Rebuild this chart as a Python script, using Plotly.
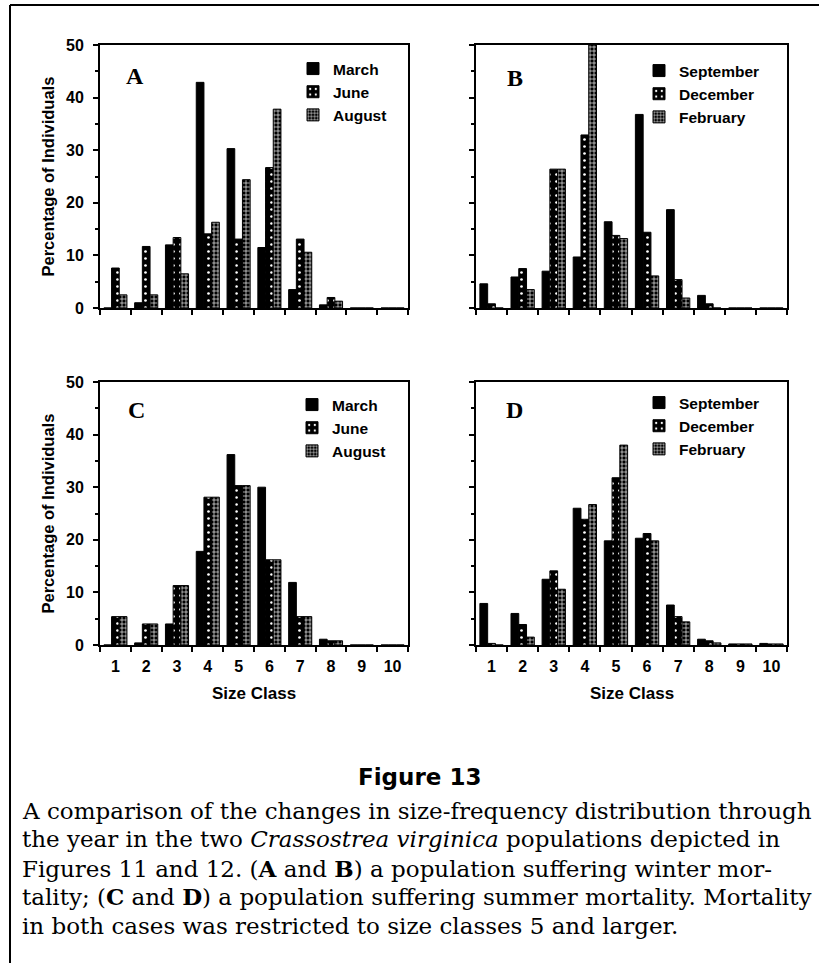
import plotly.graph_objects as go

W, H = 819, 966

size_class = [str(i) for i in range(1, 11)]

# Panel A: population with winter mortality, sampled through spring/summer
a_march = [0.0, 1.0, 12.0, 42.9, 30.3, 11.5, 3.5, 0.6, 0.0, 0.0]
a_june = [7.6, 11.7, 13.4, 14.1, 13.1, 26.7, 13.1, 2.0, 0.0, 0.0]
a_august = [2.5, 2.5, 6.5, 16.3, 24.4, 37.8, 10.6, 1.3, 0.0, 0.0]

# Panel B: same population, autumn/winter samples
b_september = [4.6, 5.9, 7.0, 9.7, 16.4, 36.8, 18.7, 2.4, 0.0, 0.0]
b_december = [0.8, 7.5, 26.4, 32.9, 13.8, 14.4, 5.4, 0.8, 0.0, 0.0]
b_february = [0.0, 3.5, 26.4, 50.0, 13.2, 6.1, 1.9, 0.0, 0.0, 0.0]

# Panel C: population with summer mortality, spring/summer samples
c_march = [0.0, 0.4, 4.0, 17.8, 36.2, 30.0, 11.9, 1.1, 0.0, 0.0]
c_june = [5.4, 4.0, 11.3, 28.1, 30.3, 16.2, 5.4, 0.8, 0.0, 0.0]
c_august = [5.4, 4.0, 11.3, 28.1, 30.3, 16.2, 5.4, 0.8, 0.0, 0.0]

# Panel D: same population, autumn/winter samples
d_september = [7.9, 6.0, 12.5, 26.0, 19.8, 20.3, 7.6, 1.1, 0.2, 0.3]
d_december = [0.3, 3.9, 14.1, 23.9, 31.8, 21.2, 5.4, 0.8, 0.2, 0.2]
d_february = [0.0, 1.5, 10.6, 26.7, 38.0, 19.8, 4.4, 0.4, 0.2, 0.2]

y_title = "Percentage of Individuals"
x_title = "Size Class"

caption_lines = [
    "A comparison of the changes in size-frequency distribution through",
    "the year in the two <i>Crassostrea virginica</i> populations depicted in",
    "Figures 11 and 12. (<b>A</b> and <b>B</b>) a population suffering winter mor-",
    "tality; (<b>C</b> and <b>D</b>) a population suffering summer mortality. Mortality",
    "in both cases was restricted to size classes 5 and larger.",
]


def fx(px):
    return px / W


def fy(py):
    return 1 - py / H


SANS = "Liberation Sans"
SERIF = "Liberation Serif"

# fill styles: solid, dotted, cross-hatched
styles = [
    dict(color="black"),
    dict(color="black", pattern=dict(shape=".", fgcolor="white", bgcolor="black",
                                     size=7, solidity=0.12)),
    dict(color="black", pattern=dict(shape="+", fgcolor="white", bgcolor="black",
                                     size=4, solidity=0.3)),
]

panels = [
    # letter, series, names, x domain px, y domain px, legend top px, legend left px,
    # letter centre px
    ("A", [a_march, a_june, a_august], ["March", "June", "August"],
     (100, 408), (45, 308), 52, 293, (135, 76)),
    ("B", [b_september, b_december, b_february], ["September", "December", "February"],
     (476, 787), (45, 308), 54, 639, (515, 78)),
    ("C", [c_march, c_june, c_august], ["March", "June", "August"],
     (100, 408), (382, 645), 388, 292, (136, 410)),
    ("D", [d_september, d_december, d_february], ["September", "December", "February"],
     (476, 787), (382, 645), 386, 639, (514, 410)),
]

fig = go.Figure()
layout = dict(
    template="none",
    width=W, height=H, autosize=False,
    margin=dict(l=0, r=0, t=0, b=0, pad=0),
    paper_bgcolor="white", plot_bgcolor="white",
    barmode="group", bargap=0.25, bargroupgap=0.0,
    annotations=[], shapes=[],
)

for i, (letter, series, names, xd, yd, leg_top, leg_left, lpos) in enumerate(panels):
    n = i + 1
    sfx = "" if n == 1 else str(n)
    leg = "legend" + sfx
    for vals, name, st in zip(series, names, styles):
        fig.add_trace(go.Bar(
            x=size_class, y=vals, name=name,
            xaxis="x" + sfx, yaxis="y" + sfx, legend=leg,
            marker=dict(line=dict(color="black", width=1), **st),
            offsetgroup=name,
        ))
    bottom_row = letter in ("C", "D")
    left_col = letter in ("A", "C")
    layout["xaxis" + sfx] = dict(
        domain=[fx(xd[0]), fx(xd[1])], anchor="y" + sfx, automargin=False,
        type="category", categoryorder="array", categoryarray=size_class,
        range=[-0.5, 9.5], tickson="boundaries",
        ticks="outside", ticklen=5, tickwidth=2, tickcolor="black",
        showline=True, linewidth=2, linecolor="black", mirror=True,
        showgrid=False, zeroline=False,
        showticklabels=bottom_row, ticklabelstandoff=6,
        tickfont=dict(family=SANS, size=16, color="black", weight="bold"),
        fixedrange=True,
    )
    layout["yaxis" + sfx] = dict(
        domain=[fy(yd[1]), fy(yd[0])], anchor="x" + sfx, automargin=False,
        range=[0, 50], dtick=10, tick0=0,
        ticks="outside", ticklen=5, tickwidth=2, tickcolor="black",
        minor=dict(dtick=5, ticks="outside", ticklen=3, tickwidth=2, tickcolor="black"),
        showline=True, linewidth=2, linecolor="black", mirror=True,
        showgrid=False, zeroline=False,
        showticklabels=left_col, ticklabelstandoff=6,
        tickfont=dict(family=SANS, size=16, color="black", weight="bold"),
        fixedrange=True,
    )
    layout[leg] = dict(
        x=fx(leg_left), y=fy(leg_top), xanchor="left", yanchor="top",
        bgcolor="rgba(0,0,0,0)", borderwidth=0, tracegroupgap=0,
        font=dict(family=SANS, size=15.5, color="black", weight="bold"),
        traceorder="normal",
    )
    # panel letter
    layout["annotations"].append(dict(
        text=letter, x=fx(lpos[0]), y=fy(lpos[1]), xref="paper", yref="paper",
        xanchor="center", yanchor="middle", showarrow=False,
        font=dict(family=SERIF, size=24, color="black", weight="bold"),
    ))
    if left_col:
        layout["annotations"].append(dict(
            text=y_title, x=fx(47), y=fy((yd[0] + yd[1]) / 2), xref="paper", yref="paper",
            xanchor="center", yanchor="middle", textangle=-90, showarrow=False,
            font=dict(family=SANS, size=16.5, color="black", weight="bold"),
        ))
    if bottom_row:
        layout["annotations"].append(dict(
            text=x_title, x=fx((xd[0] + xd[1]) / 2), y=fy(693), xref="paper", yref="paper",
            xanchor="center", yanchor="middle", showarrow=False,
            font=dict(family=SANS, size=17, color="black", weight="bold"),
        ))

# figure caption
layout["annotations"].append(dict(
    text="Figure 13", x=fx(420), y=fy(777), xref="paper", yref="paper",
    xanchor="center", yanchor="middle", showarrow=False,
    font=dict(family="DejaVu Sans", size=23, color="black", weight="bold"),
))
for k, line in enumerate(caption_lines):
    baseline = 818 + 28.8 * k
    layout["annotations"].append(dict(
        text=line, x=fx(20), y=fy(baseline - 7.5), xref="paper", yref="paper",
        xanchor="left", yanchor="middle", showarrow=False,
        font=dict(family="DejaVu Serif", size=23, color="black"),
    ))

# outer frame (top and left edges)
layout["shapes"] += [
    dict(type="line", xref="paper", yref="paper", x0=fx(10), x1=1, y0=fy(5), y1=fy(5),
         line=dict(color="black", width=2)),
    dict(type="line", xref="paper", yref="paper", x0=fx(10), x1=fx(10), y0=fy(5), y1=fy(963),
         line=dict(color="black", width=2)),
]

fig.update_layout(**layout)
fig.write_html("out.html")
